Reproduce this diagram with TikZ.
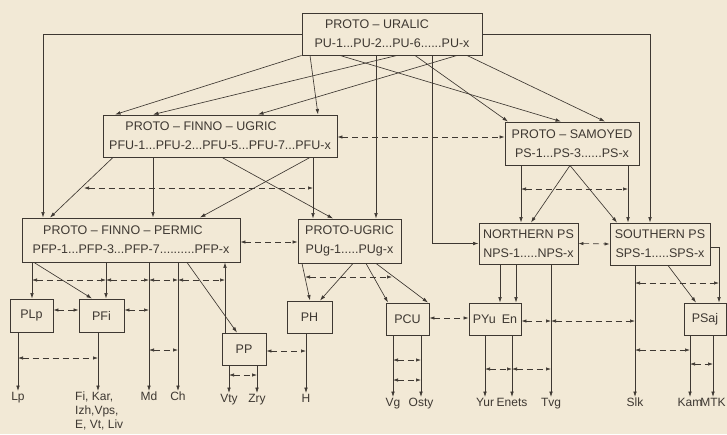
\documentclass[tikz,border=0pt]{standalone}
\usepackage{fontspec}
\setmainfont{Liberation Sans}
\usetikzlibrary{arrows.meta}
\definecolor{bg}{HTML}{F2E9D6}
\definecolor{ink}{HTML}{3E3832}
\begin{document}
\begin{tikzpicture}[x=1pt,y=-1pt,
  box/.style={draw=ink, line width=0.9pt, text=ink, inner sep=0pt, align=center, font=\fontsize{12.5}{19}\selectfont},
  lbl/.style={text=ink, inner sep=1pt, anchor=north, font=\fontsize{12}{14}\selectfont},
  arr/.style={draw=ink, line width=0.65pt, -{Latex[length=5.5pt,width=3.6pt]}},
  darr/.style={draw=ink, line width=0.65pt, dash pattern=on 6pt off 4pt, {Latex[length=5pt,width=3.4pt]}-{Latex[length=5pt,width=3.4pt]}},
]
\fill[bg] (0,0) rectangle (727,434);
\useasboundingbox (0,0) rectangle (727,434);

% boxes
\node[box, minimum width=180pt, minimum height=42pt] (pu) at (392,34) {\hspace*{-30pt}PROTO -- URALIC\\PU-1...PU-2...PU-6......PU-x};
\node[box, minimum width=234pt, minimum height=42pt] (pfu) at (220,136) {\hspace*{-38pt}PROTO -- FINNO -- UGRIC\\PFU-1...PFU-2...PFU-5...PFU-7...PFU-x};
\node[box, minimum width=134pt, minimum height=43pt] (ps) at (572,143.5) {PROTO -- SAMOYED\\PS-1...PS-3......PS-x};
\node[box, minimum width=218pt, minimum height=44pt] (pfp) at (131,240) {\hspace*{-16pt}PROTO -- FINNO -- PERMIC\\PFP-1...PFP-3...PFP-7..........PFP-x};
\node[box, minimum width=103pt, minimum height=44pt] (pug) at (349.5,241) {PROTO-UGRIC\\PUg-1.....PUg-x};
\node[box, minimum width=99pt, minimum height=41pt] (nps) at (528.5,243.5) {NORTHERN PS\\NPS-1.....NPS-x};
\node[box, minimum width=100pt, minimum height=42pt] (sps) at (660,244) {SOUTHERN PS\\SPS-1.....SPS-x};
\node[box, minimum width=43pt, minimum height=33pt] (plp) at (31.5,315.5) {PLp};
\node[box, minimum width=45pt, minimum height=33pt] (pfi) at (101.5,315.5) {PFi};
\node[box, minimum width=44pt, minimum height=32pt] (pp) at (244,349) {PP};
\node[box, minimum width=45pt, minimum height=32pt] (ph) at (309.5,317) {PH};
\node[box, minimum width=43pt, minimum height=32pt] (pcu) at (407.5,319) {PCU};
\node[box, minimum width=52pt, minimum height=32pt] (pyu) at (495,319) {PYu\hspace{6pt}En};
\node[box, minimum width=42pt, minimum height=32pt] (psaj) at (705,319) {PSaj};

% bottom labels
\node[lbl] (lp) at (18,391) {Lp};
\coordinate (fitop) at (98,391);
\node[lbl, anchor=north west, align=left, font=\fontsize{12}{14}\selectfont] (fi) at (74,391) {Fi, Kar,\\Izh,Vps,\\E, Vt, Liv};
\node[lbl] (md) at (149,391) {Md};
\node[lbl] (ch) at (178,391) {Ch};
\node[lbl] (vty) at (229,393) {Vty};
\node[lbl] (zry) at (257,393) {Zry};
\node[lbl] (h) at (306,393) {H};
\node[lbl] (vg) at (393,397) {Vg};
\node[lbl] (osty) at (421,397) {Osty};
\node[lbl] (yur) at (485,397) {Yur};
\node[lbl] (enets) at (512,397) {Enets};
\node[lbl] (tvg) at (551,397) {Tvg};
\node[lbl] (slk) at (635,397) {Slk};
\node[lbl] (kam) at (690,397) {Kam};
\node[lbl] (mtk) at (713,397) {MTK};

% from PROTO-URALIC
\draw[arr] (pu.west) -| (pfp.north -| 43,0);
\draw[arr] (pu.east) -| (sps.north -| 650,0);
\draw[arr] (pu.south west) -- (pfu.north -| 115,0);
\draw[arr] (pu.south -| 397,0) -- (pfu.north -| 153,0);
\draw[arr] (pu.south -| 457,0) -- (pfu.north -| 258,0);
\draw[arr] (pu.south -| 310,0) -- (pfu.north -| 318,0);
\draw[arr] (pu.south -| 340,0) -- (ps.north -| 561,0);
\draw[arr] (pu.south -| 415,0) -- (ps.north -| 508,0);
\draw[arr] (pu.south -| 467,0) -- (ps.north -| 605,0);
\draw[arr] (pu.south -| 376,0) -- (pug.north -| 376,0);
\draw[arr] (pu.south -| 432,0) |- (nps.west);
\draw[darr] (pfu.east |- 0,137) -- (ps.west |- 0,137);

% from PROTO-FINNO-UGRIC
\draw[arr] (pfu.south -| 113,0) -- (pfp.north -| 50,0);
\draw[arr] (pfu.south -| 153,0) -- (pfp.north -| 153,0);
\draw[arr] (pfu.south -| 310,0) -- (pfp.north -| 200,0);
\draw[arr] (pfu.south -| 222,0) -- (pug.north -| 333,0);
\draw[arr] (pfu.south -| 313,0) -- (pug.north -| 313,0);
\coordinate (a1) at (84,188);
\coordinate (a2) at (313,188);
\draw[darr] (a1) -- (a2);

% from PROTO-SAMOYED
\draw[arr] (ps.south -| 521,0) -- (nps.north -| 521,0);
\draw[arr] (ps.south -| 570,0) -- (nps.north -| 531,0);
\draw[arr] (ps.south -| 570,0) -- (sps.north -| 617,0);
\draw[arr] (ps.south -| 628,0) -- (sps.north -| 628,0);
\coordinate (b1) at (521,189);
\coordinate (b2) at (628,189);
\draw[darr] (b1) -- (b2);

\draw[darr] (pfp.east |- 0,242) -- (pug.west |- 0,242);
\draw[darr] (nps.east) -- (sps.west);

% from PROTO-FINNO-PERMIC
\draw[arr] (pfp.south -| 32,0) -- (plp.north -| 32,0);
\draw[arr] (pfp.south -| 34,0) -- (pfi.north -| 92,0);
\draw[arr] (pfp.south -| 106,0) -- (pfi.north -| 106,0);
\draw[arr] (pfp.south -| 149,0) -- (md.north);
\draw[arr] (pfp.south -| 178,0) -- (ch.north);
\draw[arr] (pfp.south -| 187,0) -- (pp.north -| 237,0);
\draw[arr] (pp.north -| 225,0) -- (pfp.south -| 225,0);
\coordinate (c1) at (32,280);
\coordinate (c2) at (106,280);
\coordinate (c3) at (149,280);
\coordinate (c4) at (178,280);
\coordinate (c5) at (225,280);
\draw[darr] (c1) -- (c2);
\draw[darr] (c2) -- (c3);
\draw[darr] (c3) -- (c4);
\draw[darr] (c4) -- (c5);
\draw[darr] (plp.east |- 0,310) -- (pfi.west |- 0,310);
\coordinate (c6) at (149,310);
\draw[darr] (pfi.east |- 0,310) -- (c6);
\draw[darr] (md |- 0,350) -- (ch |- 0,350);

% PLp, PFi, PP, PH
\draw[arr] (plp.south -| 18,0) -- (lp.north);
\draw[arr] (pfi.south -| 98,0) -- (fitop);
\draw[darr] (lp |- 0,358) -- (fitop |- 0,358);
\draw[arr] (pp.south -| 229,0) -- (vty.north);
\draw[arr] (pp.south -| 257,0) -- (zry.north);
\draw[darr] (vty |- 0,375) -- (zry |- 0,375);
\draw[arr] (ph.south -| 306,0) -- (h.north);
\draw[darr] (pp.east |- 0,351) -- (h |- 0,351);

% from PROTO-UGRIC
\draw[arr] (pug.south -| 302,0) -- (ph.north -| 310,0);
\draw[arr] (pug.south -| 353,0) -- (ph.north -| 320,0);
\draw[arr] (pug.south -| 366,0) -- (pcu.north -| 388,0);
\draw[arr] (pug.south -| 376,0) -- (pcu.north -| 428,0);
\coordinate (e1) at (305,277);
\coordinate (e2) at (392,277);
\draw[darr] (e1) -- (e2);

% PCU
\draw[arr] (pcu.south -| 393,0) -- (vg.north);
\draw[arr] (pcu.south -| 421,0) -- (osty.north);
\draw[darr] (vg |- 0,360) -- (osty |- 0,360);
\draw[darr] (vg |- 0,380) -- (osty |- 0,380);
\draw[darr] (pcu.east |- 0,318) -- (pyu.west |- 0,318);

% NORTHERN PS, PYu En
\draw[arr] (nps.south -| 500,0) -- (pyu.north -| 500,0);
\draw[arr] (nps.south -| 516,0) -- (pyu.north -| 516,0);
\draw[arr] (nps.south -| 551,0) -- (tvg.north);
\draw[arr] (pyu.south -| 485,0) -- (yur.north);
\draw[arr] (pyu.south -| 512,0) -- (enets.north);
\draw[darr] (yur |- 0,369) -- (enets |- 0,369);
\draw[darr] (enets |- 0,369) -- (tvg |- 0,369);
\draw[darr] (pyu.east |- 0,321) -- (tvg |- 0,321);
\draw[darr] (tvg |- 0,321) -- (slk |- 0,321);

% SOUTHERN PS, PSaj
\draw[arr] (sps.south -| 635,0) -- (slk.north);
\draw[arr] (sps.south -| 668,0) -- (psaj.north -| 696,0);
\draw[arr] (sps.east |- 0,247) -| (psaj.north -| 719,0);
\coordinate (f2) at (719,283);
\draw[darr] (slk |- 0,283) -- (f2);
\draw[darr] (slk |- 0,350) -- (kam |- 0,350);
\draw[arr] (psaj.south -| 690,0) -- (kam.north);
\draw[arr] (psaj.south -| 713,0) -- (mtk.north);
\draw[darr] (kam |- 0,364) -- (mtk |- 0,364);
\end{tikzpicture}
\end{document}
